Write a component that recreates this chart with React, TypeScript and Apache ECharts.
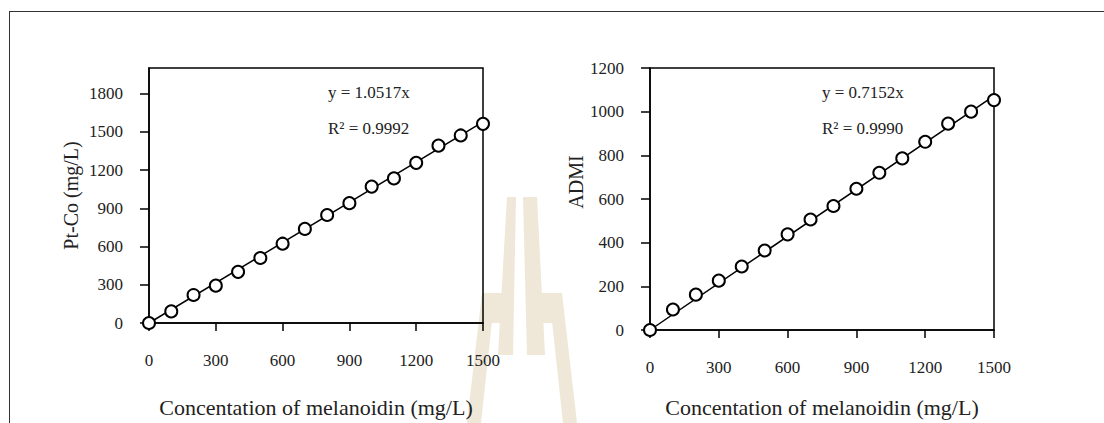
import React, { useEffect, useRef } from "react";
import * as echarts from "echarts";

// ---- data ----
const concentrations = [0, 100, 200, 300, 400, 500, 600, 700, 800, 900, 1000, 1100, 1200, 1300, 1400, 1500];
const ptcoValues = [0, 91, 220, 293, 401, 510, 622, 738, 847, 940, 1070, 1134, 1256, 1391, 1471, 1562];
const admiValues = [0, 94, 162, 226, 291, 364, 438, 506, 568, 647, 720, 786, 862, 945, 1000, 1053];
const trendX = [0, 1500];
const ptcoTrendY = [0, 1577.55];
const admiTrendY = [0, 1072.8];
const xTicks = [0, 300, 600, 900, 1200, 1500];
const ptcoTicks = [0, 300, 600, 900, 1200, 1500, 1800];
const admiTicks = [0, 200, 400, 600, 800, 1000, 1200];
const ptcoEquation = "y = 1.0517x";
const ptcoR2 = "R² = 0.9992";
const admiEquation = "y = 0.7152x";
const admiR2 = "R² = 0.9990";
const xName = "Concentation of melanoidin (mg/L)";
const ptcoName = "Pt-Co (mg/L)";
const admiName = "ADMI";

const FONT = "Liberation Serif";
const TXT = "#222";

function pairs(xs: number[], ys: number[]) {
  return xs.map((x, i) => [x, ys[i]]);
}

function xAxis(gridIndex: number, nameGap: number) {
  return {
    type: "value",
    gridIndex,
    min: 0,
    max: 1500,
    interval: 300,
    axisLine: { show: true, onZero: false, lineStyle: { color: "#000", width: 1.5 } },
    axisTick: { show: true, inside: false, length: 8, customValues: xTicks, lineStyle: { color: "#000", width: 1.5 } },
    axisLabel: {
      margin: 29,
      customValues: xTicks,
      fontFamily: FONT,
      fontSize: 17,
      color: TXT,
      formatter: (v: number) => String(v),
    },
    splitLine: { show: false },
    name: xName,
    nameLocation: "middle",
    nameGap,
    nameTextStyle: { fontFamily: FONT, fontSize: 22, color: TXT },
  };
}

function yAxis(gridIndex: number, max: number, interval: number, ticks: number[], name: string, nameGap: number, padding: number[]) {
  return {
    type: "value",
    gridIndex,
    min: 0,
    max,
    interval,
    axisLine: { show: true, onZero: false, lineStyle: { color: "#000", width: 1.5 } },
    axisTick: { show: true, inside: false, length: 9, customValues: ticks, lineStyle: { color: "#000", width: 1.5 } },
    axisLabel: {
      margin: 26,
      customValues: ticks,
      fontFamily: FONT,
      fontSize: 17,
      color: TXT,
      formatter: (v: number) => (ticks.indexOf(v) >= 0 ? String(v) : ""),
    },
    splitLine: { show: false },
    name,
    nameLocation: "middle",
    nameGap,
    nameTextStyle: { fontFamily: FONT, fontSize: 20, color: TXT, padding },
  };
}

function scatter(xi: number, yi: number, data: number[][]) {
  return {
    type: "scatter",
    xAxisIndex: xi,
    yAxisIndex: yi,
    data,
    symbol: "circle",
    symbolSize: 12,
    itemStyle: { color: "#fff", borderColor: "#000", borderWidth: 2, opacity: 1 },
    emphasis: { disabled: true },
    z: 5,
  };
}

function trend(xi: number, yi: number, data: number[][]) {
  return {
    type: "line",
    xAxisIndex: xi,
    yAxisIndex: yi,
    data,
    symbol: "none",
    lineStyle: { color: "#000", width: 1.5 },
    z: 3,
  };
}

const WM = "#efe7d8";
function poly(points: number[][]) {
  return { type: "polygon", z: -10, silent: true, shape: { points }, style: { fill: WM } };
}

function annot(x: number, y: number, text: string) {
  return {
    type: "text",
    x,
    y,
    z: 10,
    style: { text, fontFamily: FONT, fontSize: 17, fill: TXT, verticalAlign: "middle", textAlign: "left" },
  };
}

export default function App() {
  const ref = useRef<HTMLDivElement>(null);
  useEffect(() => {
    if (!ref.current) return;
    const chart = echarts.init(ref.current, undefined, { renderer: "svg" });
    chart.setOption({
      animation: false,
      backgroundColor: "#fff",
      textStyle: { fontFamily: FONT },
      grid: [
        { left: 149, top: 68, width: 334, height: 257, show: true, borderColor: "#000", borderWidth: 1.5, backgroundColor: "transparent" },
        { left: 650, top: 68, width: 344, height: 264, show: true, borderColor: "#000", borderWidth: 1.5, backgroundColor: "transparent" },
      ],
      xAxis: [xAxis(0, 73), xAxis(1, 66)],
      yAxis: [
        yAxis(0, 2000, 300, ptcoTicks, ptcoName, 68, [0, 0, 0, 0]),
        yAxis(1, 1200, 200, admiTicks, admiName, 60, [0, 0, 0, 34]),
      ],
      series: [
        trend(0, 0, pairs(trendX, ptcoTrendY)),
        scatter(0, 0, pairs(concentrations, ptcoValues)),
        trend(1, 1, pairs(trendX, admiTrendY)),
        scatter(1, 1, pairs(concentrations, admiValues)),
      ],
      graphic: [
        // watermark
        poly([[507, 197], [516, 197], [513, 355], [498, 355]]),
        poly([[523, 197], [537, 197], [545, 355], [527, 355]]),
        poly([[482, 293], [495, 293], [481, 423], [467, 423]]),
        poly([[549, 293], [562, 293], [577, 423], [563, 423]]),
        poly([[494, 293], [509, 293], [508, 323], [491, 323]]),
        poly([[537, 293], [551, 293], [555, 323], [539, 323]]),
        // frame
        { type: "line", z: 20, shape: { x1: 10, y1: 11.5, x2: 1104, y2: 11.5 }, style: { stroke: "#333", lineWidth: 1 } },
        { type: "line", z: 20, shape: { x1: 9.5, y1: 11, x2: 9.5, y2: 423 }, style: { stroke: "#333", lineWidth: 1 } },
        // annotations
        annot(328, 92, ptcoEquation),
        annot(328, 128, ptcoR2),
        annot(822, 92, admiEquation),
        annot(822, 128, admiR2),
      ],
    });
    return () => chart.dispose();
  }, []);
  return <div ref={ref} style={{ position: "fixed", left: 0, top: 0, width: 1104, height: 423, background: "#fff" }} />;
}
